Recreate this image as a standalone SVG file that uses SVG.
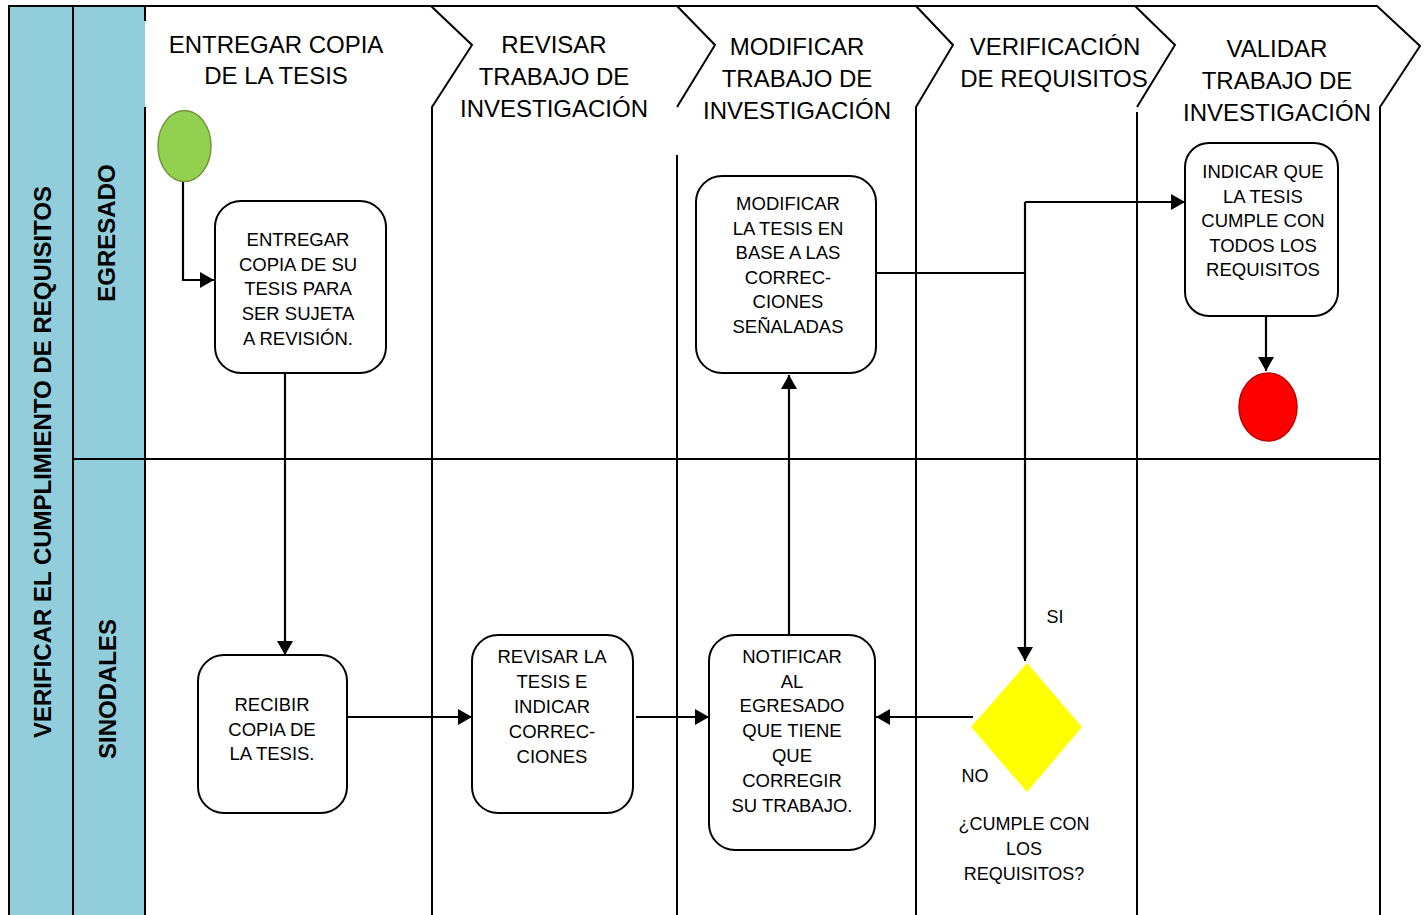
<svg xmlns="http://www.w3.org/2000/svg" width="1428" height="915" viewBox="0 0 1428 915">
  <style>
    .lane { fill: none; stroke: #000; stroke-width: 2; }
    .band { fill: #92CDDC; }
    .head { font-family: "Liberation Sans", Arial, sans-serif; font-size: 24px; fill: #000; text-anchor: middle; }
    .side { font-family: "Liberation Sans", Arial, sans-serif; font-size: 24px; font-weight: bold; fill: #000; text-anchor: middle; dominant-baseline: central; }
    .box { fill: #fff; stroke: #000; stroke-width: 2; }
    .txt { font-family: "Liberation Sans", Arial, sans-serif; font-size: 18.5px; fill: #000; text-anchor: middle; }
    .lbl { font-family: "Liberation Sans", Arial, sans-serif; font-size: 18px; fill: #000; text-anchor: middle; }
    .edge { fill: none; stroke: #000; stroke-width: 2.2; }
  </style>
  <defs>
    <marker id="arrow" viewBox="0 0 14 16" refX="14" refY="8" markerUnits="userSpaceOnUse" markerWidth="14" markerHeight="16" orient="auto">
      <path d="M0,0 L14,8 L0,16 Z" fill="#000"/>
    </marker>
  </defs>

  <rect width="1428" height="915" fill="#fff"/>

  <!-- pool and lane header bands -->
  <g id="pool-header">
    <rect class="band" x="9" y="5" width="136" height="910"/>
    <line class="lane" x1="9" y1="5" x2="9" y2="915"/>
    <line class="lane" x1="73" y1="5" x2="73" y2="915"/>
    <line class="lane" x1="145" y1="5" x2="145" y2="21"/>
    <line class="lane" x1="145" y1="107" x2="145" y2="915"/>
    <text class="side" transform="translate(42,462) rotate(-90)">VERIFICAR EL CUMPLIMIENTO DE REQUISITOS</text>
    <text class="side" transform="translate(106,233) rotate(-90)">EGRESADO</text>
    <text class="side" transform="translate(107,689) rotate(-90)">SINODALES</text>
  </g>

  <!-- phase columns with chevron headers -->
  <g id="phases">
    <path class="lane" d="M9,6 H1377 L1420,46 L1380,107 V915"/>
    <path class="lane" d="M431,6 L472,45 L432,107 V915"/>
    <path class="lane" d="M677,6 L715,45 L677,107"/>
    <line class="lane" x1="677" y1="155" x2="677" y2="915"/>
    <path class="lane" d="M916,6 L953,45 L916,107 V915"/>
    <path class="lane" d="M1135,6 L1175,45 L1137,107"/>
    <line class="lane" x1="1137" y1="112" x2="1137" y2="915"/>
    <line class="lane" x1="73" y1="459" x2="1380" y2="459"/>

    <text class="head" x="276" y="53">ENTREGAR COPIA</text>
    <text class="head" x="276" y="84">DE LA TESIS</text>

    <text class="head" x="554" y="53">REVISAR</text>
    <text class="head" x="554" y="85">TRABAJO DE</text>
    <text class="head" x="554" y="117">INVESTIGACIÓN</text>

    <text class="head" x="797" y="55">MODIFICAR</text>
    <text class="head" x="797" y="87">TRABAJO DE</text>
    <text class="head" x="797" y="119">INVESTIGACIÓN</text>

    <text class="head" x="1055" y="55">VERIFICACIÓN</text>
    <text class="head" x="1054" y="87">DE REQUISITOS</text>

    <text class="head" x="1277" y="57">VALIDAR</text>
    <text class="head" x="1277" y="89">TRABAJO DE</text>
    <text class="head" x="1277" y="121">INVESTIGACIÓN</text>
  </g>

  <!-- connectors -->
  <g id="connectors">
    <path class="edge" d="M183,182 V280 H214" marker-end="url(#arrow)"/>
    <path class="edge" d="M285,373 V655" marker-end="url(#arrow)"/>
    <path class="edge" d="M347,717 H472" marker-end="url(#arrow)"/>
    <path class="edge" d="M636,717 H709" marker-end="url(#arrow)"/>
    <path class="edge" d="M789,635 V375" marker-end="url(#arrow)"/>
    <path class="edge" d="M973,717 H876" marker-end="url(#arrow)"/>
    <path class="edge" d="M876,273 H1025"/>
    <path class="edge" d="M1025,202 V661" marker-end="url(#arrow)"/>
    <path class="edge" d="M1025,202 H1185" marker-end="url(#arrow)"/>
    <path class="edge" d="M1266,316 V371" marker-end="url(#arrow)"/>
    <text class="lbl" x="1055" y="623">SI</text>
    <text class="lbl" x="975" y="782">NO</text>
  </g>

  <g id="start">
    <ellipse cx="184.5" cy="146" rx="26.5" ry="35.5" fill="#92D050" stroke="#77933C" stroke-width="1.5"/>
  </g>

  <g id="entregar-copia">
    <rect class="box" x="215" y="201" width="171" height="172" rx="26"/>
    <text class="txt" x="298" y="246">ENTREGAR</text>
    <text class="txt" x="298" y="271">COPIA DE SU</text>
    <text class="txt" x="298" y="295">TESIS PARA</text>
    <text class="txt" x="298" y="320">SER SUJETA</text>
    <text class="txt" x="298" y="345">A REVISIÓN.</text>
  </g>

  <g id="recibir-copia">
    <rect class="box" x="198" y="655" width="149" height="158" rx="26"/>
    <text class="txt" x="272" y="711">RECIBIR</text>
    <text class="txt" x="272" y="736">COPIA DE</text>
    <text class="txt" x="272" y="760">LA TESIS.</text>
  </g>

  <g id="revisar-tesis">
    <rect class="box" x="472" y="635" width="161" height="178" rx="26"/>
    <text class="txt" x="552" y="663">REVISAR LA</text>
    <text class="txt" x="552" y="688">TESIS E</text>
    <text class="txt" x="552" y="713">INDICAR</text>
    <text class="txt" x="552" y="738">CORREC-</text>
    <text class="txt" x="552" y="763">CIONES</text>
  </g>

  <g id="notificar-egresado">
    <rect class="box" x="709" y="635" width="166" height="215" rx="26"/>
    <text class="txt" x="792" y="663">NOTIFICAR</text>
    <text class="txt" x="792" y="688">AL</text>
    <text class="txt" x="792" y="712">EGRESADO</text>
    <text class="txt" x="792" y="737">QUE TIENE</text>
    <text class="txt" x="792" y="762">QUE</text>
    <text class="txt" x="792" y="787">CORREGIR</text>
    <text class="txt" x="792" y="812">SU TRABAJO.</text>
  </g>

  <g id="modificar-tesis">
    <rect class="box" x="696" y="176" width="180" height="197" rx="26"/>
    <text class="txt" x="788" y="210">MODIFICAR</text>
    <text class="txt" x="788" y="235">LA TESIS EN</text>
    <text class="txt" x="788" y="259">BASE A LAS</text>
    <text class="txt" x="788" y="284">CORREC-</text>
    <text class="txt" x="788" y="308">CIONES</text>
    <text class="txt" x="788" y="333">SEÑALADAS</text>
  </g>

  <g id="cumple-requisitos">
    <polygon points="1027,663 1082,727 1027,792 971,727" fill="#FFFF00"/>
    <text class="lbl" x="1024" y="830">¿CUMPLE CON</text>
    <text class="lbl" x="1024" y="855">LOS</text>
    <text class="lbl" x="1024" y="880">REQUISITOS?</text>
  </g>

  <g id="indicar-cumple">
    <rect class="box" x="1185" y="143" width="153" height="173" rx="24"/>
    <text class="txt" x="1263" y="178">INDICAR QUE</text>
    <text class="txt" x="1263" y="203">LA TESIS</text>
    <text class="txt" x="1263" y="227">CUMPLE CON</text>
    <text class="txt" x="1263" y="252">TODOS LOS</text>
    <text class="txt" x="1263" y="276">REQUISITOS</text>
  </g>

  <g id="end">
    <ellipse cx="1268" cy="407" rx="29" ry="34" fill="#FF0000" stroke="#C00000" stroke-width="1.5"/>
  </g>
</svg>
